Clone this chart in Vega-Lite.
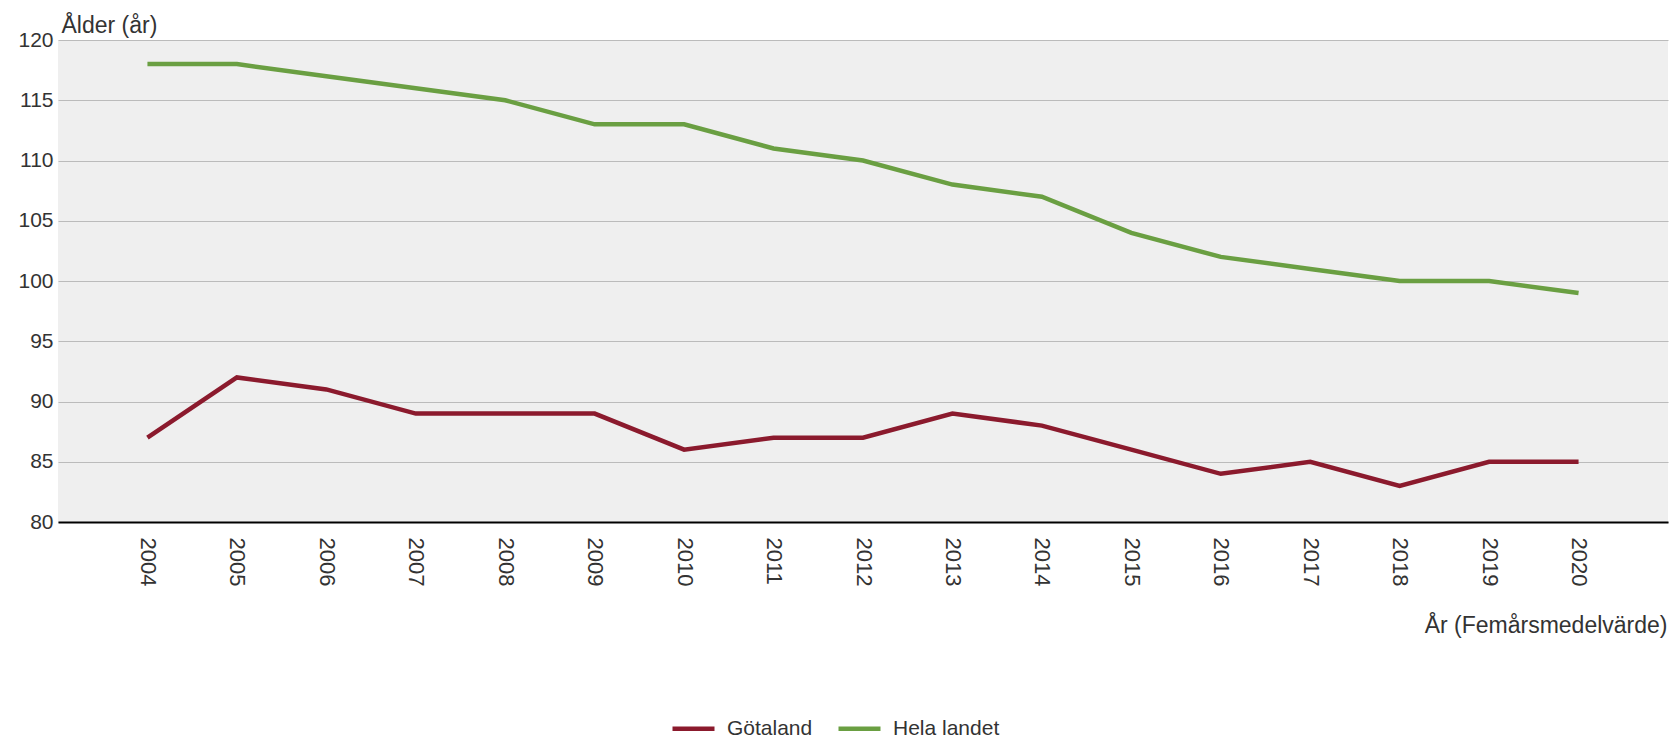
{
  "$schema": "https://vega.github.io/schema/vega-lite/v6.json",
  "width": 1610,
  "height": 482,
  "autosize": {"type": "none"},
  "padding": {"left": 58, "top": 40, "right": 4, "bottom": 219},
  "background": "white",
  "config": {
    "view": {"fill": "#EFEFEF", "stroke": null},
    "font": "Liberation Sans"
  },
  "data": {
    "values": [
      {"year": "2004", "series": "Götaland", "value": 87},
      {"year": "2005", "series": "Götaland", "value": 92},
      {"year": "2006", "series": "Götaland", "value": 91},
      {"year": "2007", "series": "Götaland", "value": 89},
      {"year": "2008", "series": "Götaland", "value": 89},
      {"year": "2009", "series": "Götaland", "value": 89},
      {"year": "2010", "series": "Götaland", "value": 86},
      {"year": "2011", "series": "Götaland", "value": 87},
      {"year": "2012", "series": "Götaland", "value": 87},
      {"year": "2013", "series": "Götaland", "value": 89},
      {"year": "2014", "series": "Götaland", "value": 88},
      {"year": "2015", "series": "Götaland", "value": 86},
      {"year": "2016", "series": "Götaland", "value": 84},
      {"year": "2017", "series": "Götaland", "value": 85},
      {"year": "2018", "series": "Götaland", "value": 83},
      {"year": "2019", "series": "Götaland", "value": 85},
      {"year": "2020", "series": "Götaland", "value": 85},
      {"year": "2004", "series": "Hela landet", "value": 118},
      {"year": "2005", "series": "Hela landet", "value": 118},
      {"year": "2006", "series": "Hela landet", "value": 117},
      {"year": "2007", "series": "Hela landet", "value": 116},
      {"year": "2008", "series": "Hela landet", "value": 115},
      {"year": "2009", "series": "Hela landet", "value": 113},
      {"year": "2010", "series": "Hela landet", "value": 113},
      {"year": "2011", "series": "Hela landet", "value": 111},
      {"year": "2012", "series": "Hela landet", "value": 110},
      {"year": "2013", "series": "Hela landet", "value": 108},
      {"year": "2014", "series": "Hela landet", "value": 107},
      {"year": "2015", "series": "Hela landet", "value": 104},
      {"year": "2016", "series": "Hela landet", "value": 102},
      {"year": "2017", "series": "Hela landet", "value": 101},
      {"year": "2018", "series": "Hela landet", "value": 100},
      {"year": "2019", "series": "Hela landet", "value": 100},
      {"year": "2020", "series": "Hela landet", "value": 99}
    ]
  },
  "mark": {"type": "line", "strokeWidth": 4.5, "strokeJoin": "miter"},
  "encoding": {
    "x": {
      "field": "year",
      "type": "ordinal",
      "scale": {"type": "point", "padding": 1},
      "axis": {
        "title": "År (Femårsmedelvärde)",
        "titleFontSize": 23,
        "titleFontWeight": "normal",
        "titleColor": "#333333",
        "titleAlign": "right",
        "titleAnchor": "end",
        "titleX": 1609,
        "titleY": 110,
        "titleBaseline": "alphabetic",
        "labelAngle": 90,
        "labelAlign": "left",
        "labelBaseline": "middle",
        "labelFontSize": 22,
        "labelColor": "#333333",
        "labelPadding": 15,
        "ticks": false,
        "grid": false,
        "domainColor": "#000000",
        "domainWidth": 2
      }
    },
    "y": {
      "field": "value",
      "type": "quantitative",
      "scale": {"domain": [80, 120], "nice": false, "zero": false},
      "axis": {
        "values": [80, 85, 90, 95, 100, 105, 110, 115, 120],
        "title": "Ålder (år)",
        "titleAngle": 0,
        "titleAlign": "left",
        "titleBaseline": "alphabetic",
        "titleX": 3,
        "titleY": -8,
        "titleFontSize": 23,
        "titleFontWeight": "normal",
        "titleColor": "#333333",
        "labelFontSize": 21,
        "labelColor": "#333333",
        "labelPadding": 5,
        "ticks": false,
        "domain": false,
        "grid": true,
        "gridColor": "#BBBBBB",
        "gridWidth": 1
      }
    },
    "color": {
      "field": "series",
      "type": "nominal",
      "scale": {"domain": ["Götaland", "Hela landet"], "range": ["#8B1A2D", "#6A9F42"]},
      "legend": {
        "title": null,
        "orient": "none",
        "direction": "horizontal",
        "legendX": 612,
        "legendY": 665,
        "symbolType": "stroke",
        "symbolSize": 1764,
        "symbolStrokeWidth": 4.5,
        "labelFontSize": 21,
        "labelColor": "#333333",
        "labelOffset": 10,
        "columnPadding": 16
      }
    }
  }
}
